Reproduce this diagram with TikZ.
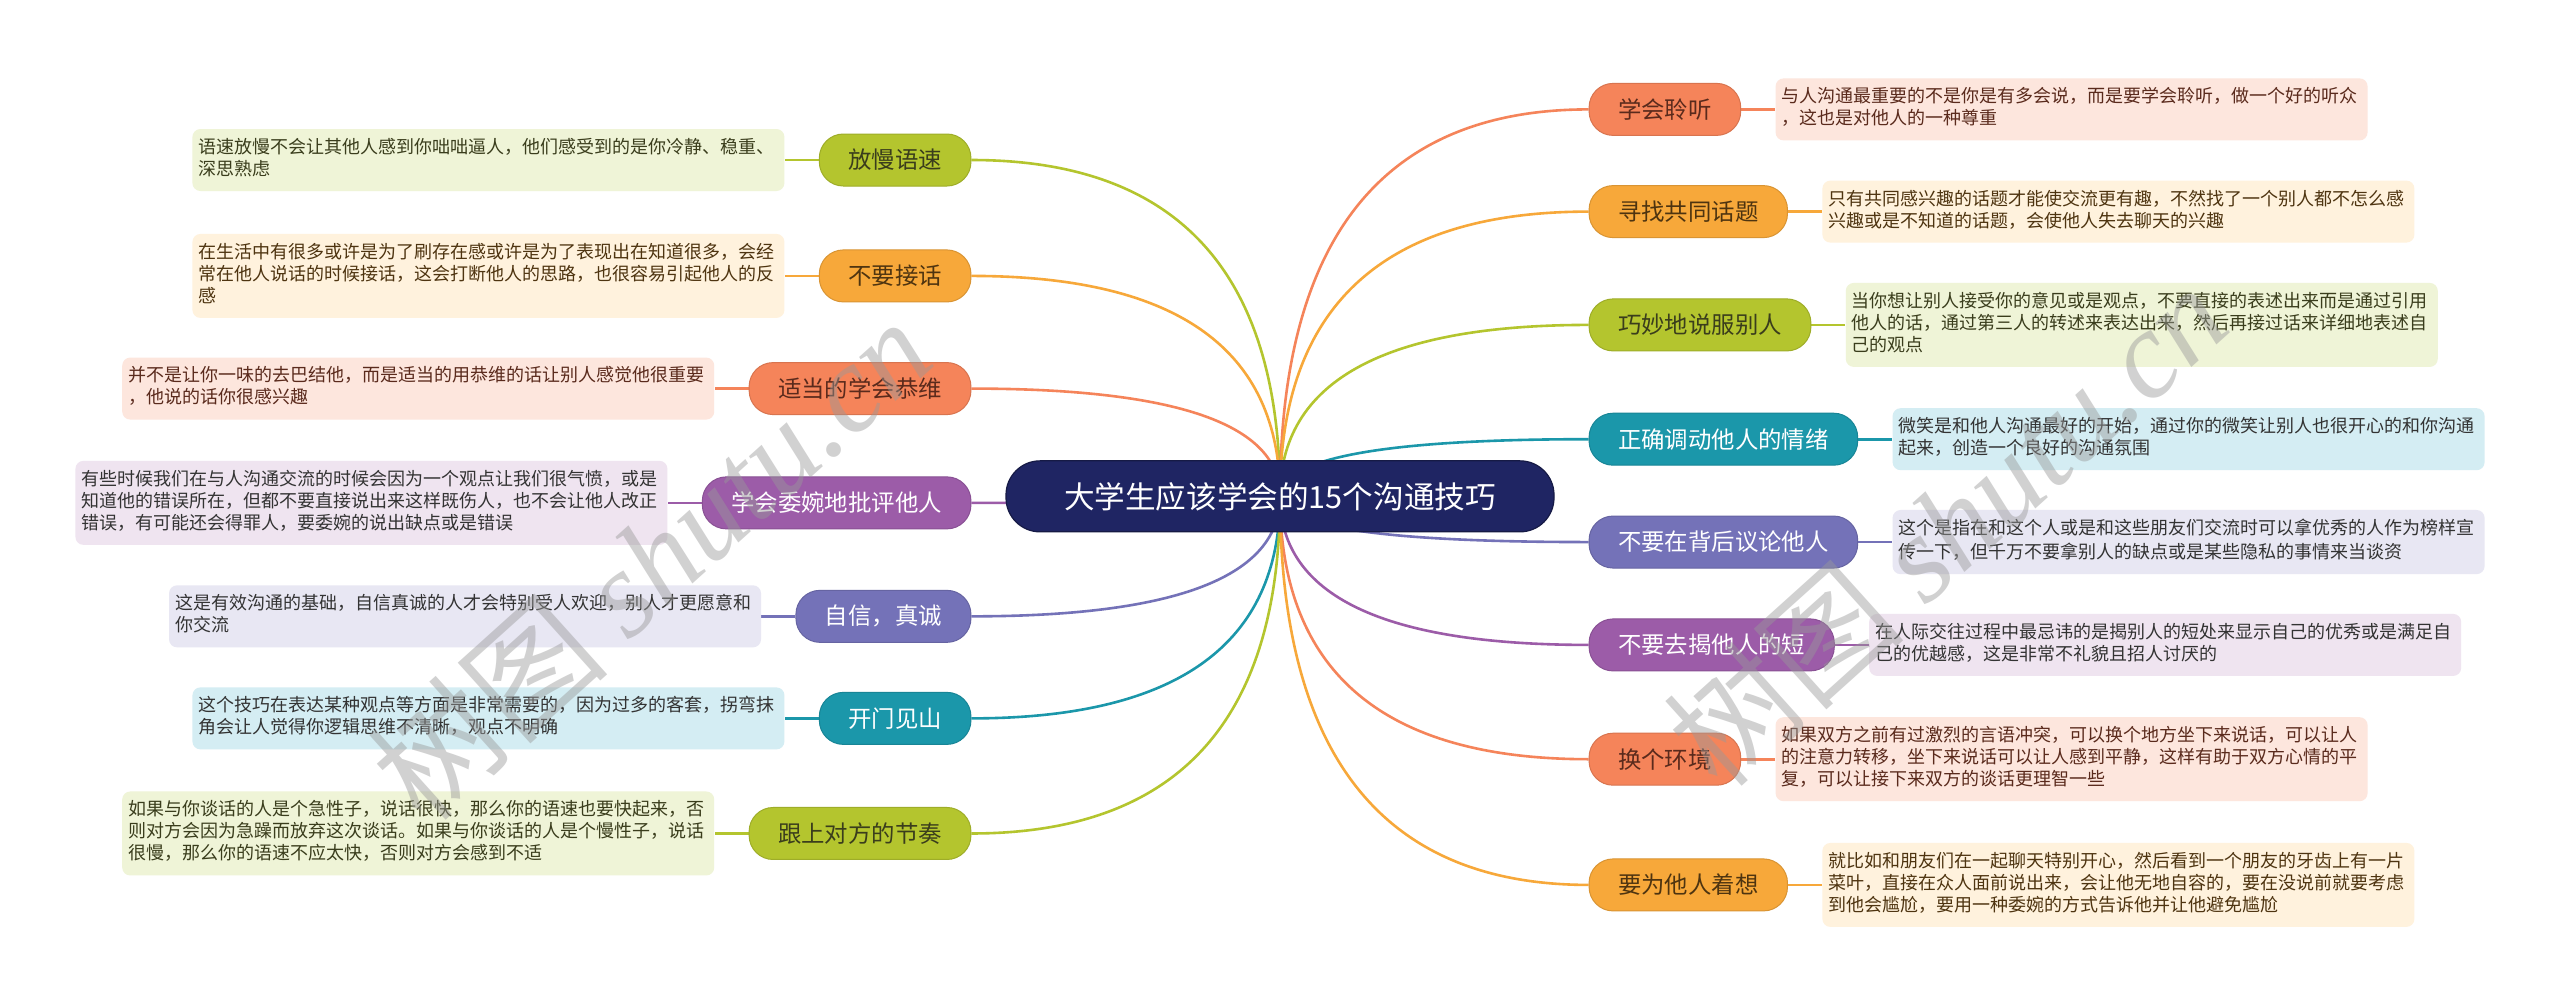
\documentclass[tikz,border=0pt]{standalone}
\usepackage{fontspec}
\setmainfont{Noto Sans CJK SC}
\newfontfamily\wmlatin{Liberation Serif}
\usetikzlibrary{positioning,calc,backgrounds}
\definecolor{cnavy}{HTML}{1F2563}
\definecolor{cgreen}{HTML}{B4C52E}
\definecolor{corange}{HTML}{F7A83A}
\definecolor{ccoral}{HTML}{F5845A}
\definecolor{cpurple}{HTML}{9C5CA8}
\definecolor{cslate}{HTML}{7472B8}
\definecolor{cteal}{HTML}{1B97AA}
\definecolor{bgreen}{HTML}{EFF4D7}
\definecolor{borange}{HTML}{FFF2DD}
\definecolor{bcoral}{HTML}{FDE6DD}
\definecolor{bpurple}{HTML}{EFE4F0}
\definecolor{bslate}{HTML}{E8E7F3}
\definecolor{bteal}{HTML}{D4EDF3}
\definecolor{tgreen}{HTML}{3A3D1C}
\definecolor{torange}{HTML}{4E3410}
\definecolor{tcoral}{HTML}{5A2A1C}
\definecolor{tgray}{HTML}{333333}
\begin{document}
\begin{tikzpicture}[x=0.81633pt,y=-0.81633pt,
  topic/.style={rounded corners=12pt, minimum height=26pt, inner xsep=14.5pt, inner ysep=0pt,
    font=\fontsize{11.7}{14}\selectfont, fill=#1, draw=#1!88!black, line width=0.5pt},
  topicL/.style={topic=#1, anchor=east},
  topicR/.style={topic=#1, anchor=west},
  desc/.style={fill=#1, rounded corners=4pt, text width=290pt, inner xsep=3pt, inner ysep=4.5pt,
    align=left, font=\fontsize{9}{11}\selectfont},
  conn/.style={draw=#1, line width=1.3pt},
  lnk/.style={draw=#1, line width=1.3pt},
  wm/.style={text=black!40, opacity=0.45, font=\fontsize{62}{66}\selectfont}]
\useasboundingbox (0,0) rectangle (1568,615.6);

\node[fill=cnavy, draw=cnavy!70!black, line width=0.6pt, rounded corners=17pt, minimum width=274pt,
  minimum height=35.5pt, text=white, font=\fontsize{15.3}{18}\selectfont] (c) at (784,304) {大学生应该学会的15个沟通技巧};

% left topics
\node[topicL=cgreen, text=tgreen] (l1) at (595,98) {放慢语速};
\node[desc=bgreen, text=tgreen, left=17pt of l1] (dl1) {\strut 语速放慢不会让其他人感到你咄咄逼人，他们感受到的是你冷静、稳重、\\深思熟虑\strut};
\node[topicL=corange, text=torange] (l2) at (595,169) {不要接话};
\node[desc=borange, text=torange, left=17pt of l2] (dl2) {\strut 在生活中有很多或许是为了刷存在感或许是为了表现出在知道很多，会经\\常在他人说话的时候接话，这会打断他人的思路，也很容易引起他人的反\\感\strut};
\node[topicL=ccoral, text=tcoral] (l3) at (595,238) {适当的学会恭维};
\node[desc=bcoral, text=tcoral, left=17pt of l3] (dl3) {\strut 并不是让你一味的去巴结他，而是适当的用恭维的话让别人感觉他很重要\\，他说的话你很感兴趣\strut};
\node[topicL=cpurple, text=white] (l4) at (595,308) {学会委婉地批评他人};
\node[desc=bpurple, text=tgray, left=17pt of l4] (dl4) {\strut 有些时候我们在与人沟通交流的时候会因为一个观点让我们很气愤，或是\\知道他的错误所在，但都不要直接说出来这样既伤人，也不会让他人改正\\错误，有可能还会得罪人，要委婉的说出缺点或是错误\strut};
\node[topicL=cslate, text=white] (l5) at (595,377.5) {自信，真诚};
\node[desc=bslate, text=tgray, left=17pt of l5] (dl5) {\strut 这是有效沟通的基础，自信真诚的人才会特别受人欢迎，别人才更愿意和\\你交流\strut};
\node[topicL=cteal, text=white] (l6) at (595,440) {开门见山};
\node[desc=bteal, text=tgray, left=17pt of l6] (dl6) {\strut 这个技巧在表达某种观点等方面是非常需要的，因为过多的客套，拐弯抹\\角会让人觉得你逻辑思维不清晰，观点不明确\strut};
\node[topicL=cgreen, text=tgreen] (l7) at (595,510.5) {跟上对方的节奏};
\node[desc=bgreen, text=tgreen, left=17pt of l7] (dl7) {\strut 如果与你谈话的人是个急性子，说话很快，那么你的语速也要快起来，否\\则对方会因为急躁而放弃这次谈话。如果与你谈话的人是个慢性子，说话\\很慢，那么你的语速不应太快，否则对方会感到不适\strut};

% right topics
\node[topicR=ccoral, text=tcoral] (r1) at (973,67) {学会聆听};
\node[desc=bcoral, text=tcoral, right=17pt of r1] (dr1) {\strut 与人沟通最重要的不是你是有多会说，而是要学会聆听，做一个好的听众\\，这也是对他人的一种尊重\strut};
\node[topicR=corange, text=torange] (r2) at (973,129.6) {寻找共同话题};
\node[desc=borange, text=torange, right=17pt of r2] (dr2) {\strut 只有共同感兴趣的话题才能使交流更有趣，不然找了一个别人都不怎么感\\兴趣或是不知道的话题，会使他人失去聊天的兴趣\strut};
\node[topicR=cgreen, text=tgreen] (r3) at (973,199) {巧妙地说服别人};
\node[desc=bgreen, text=tgreen, right=17pt of r3] (dr3) {\strut 当你想让别人接受你的意见或是观点，不要直接的表述出来而是通过引用\\他人的话，通过第三人的转述来表达出来，然后再接过话来详细地表述自\\己的观点\strut};
\node[topicR=cteal, text=white] (r4) at (973,269) {正确调动他人的情绪};
\node[desc=bteal, text=tgray, right=17pt of r4] (dr4) {\strut 微笑是和他人沟通最好的开始，通过你的微笑让别人也很开心的和你沟通\\起来，创造一个良好的沟通氛围\strut};
\node[topicR=cslate, text=white] (r5) at (973,332) {不要在背后议论他人};
\node[desc=bslate, text=tgray, right=17pt of r5] (dr5) {\strut 这个是指在和这个人或是和这些朋友们交流时可以拿优秀的人作为榜样宣\\传一下，但千万不要拿别人的缺点或是某些隐私的事情来当谈资\strut};
\node[topicR=cpurple, text=white] (r6) at (973,395) {不要去揭他人的短};
\node[desc=bpurple, text=tgray, right=17pt of r6] (dr6) {\strut 在人际交往过程中最忌讳的是揭别人的短处来显示自己的优秀或是满足自\\己的优越感，这是非常不礼貌且招人讨厌的\strut};
\node[topicR=ccoral, text=tcoral] (r7) at (973,465) {换个环境};
\node[desc=bcoral, text=tcoral, right=17pt of r7] (dr7) {\strut 如果双方之前有过激烈的言语冲突，可以换个地方坐下来说话，可以让人\\的注意力转移，坐下来说话可以让人感到平静，这样有助于双方心情的平\\复，可以让接下来双方的谈话更理智一些\strut};
\node[topicR=corange, text=torange] (r8) at (973,542) {要为他人着想};
\node[desc=borange, text=torange, right=17pt of r8] (dr8) {\strut 就比如和朋友们在一起聊天特别开心，然后看到一个朋友的牙齿上有一片\\菜叶，直接在众人面前说出来，会让他无地自容的，要在没说前就要考虑\\到他会尴尬，要用一种委婉的方式告诉他并让他避免尴尬\strut};

\begin{scope}[on background layer]
  \fill[white] (0,0) rectangle (1568,615.6);
  \foreach \nd/\col in {l1/cgreen,l2/corange,l3/ccoral,l4/cpurple,l5/cslate,l6/cteal,l7/cgreen}{
    \draw[conn=\col] (c.center) .. controls ($(c.center)!0.667!(c.center |- \nd.east)$) and ($(\nd.east)!0.667!(c.center |- \nd.east)$) .. (\nd.east);
    \draw[lnk=\col] (\nd.west) -- (d\nd.east);
  }
  \foreach \nd/\col in {r1/ccoral,r2/corange,r3/cgreen,r4/cteal,r5/cslate,r6/cpurple,r7/ccoral,r8/corange}{
    \draw[conn=\col] (c.center) .. controls ($(c.center)!0.667!(c.center |- \nd.west)$) and ($(\nd.west)!0.667!(c.center |- \nd.west)$) .. (\nd.west);
    \draw[lnk=\col] (\nd.east) -- (d\nd.west);
  }
\end{scope}

\node[wm, rotate=42] (w1) at (398,343) {树图 {\wmlatin\itshape shutu.cn}};
\node[wm, rotate=42] (w2) at (1192,322) {树图 {\wmlatin\itshape shutu.cn}};
\end{tikzpicture}
\end{document}
